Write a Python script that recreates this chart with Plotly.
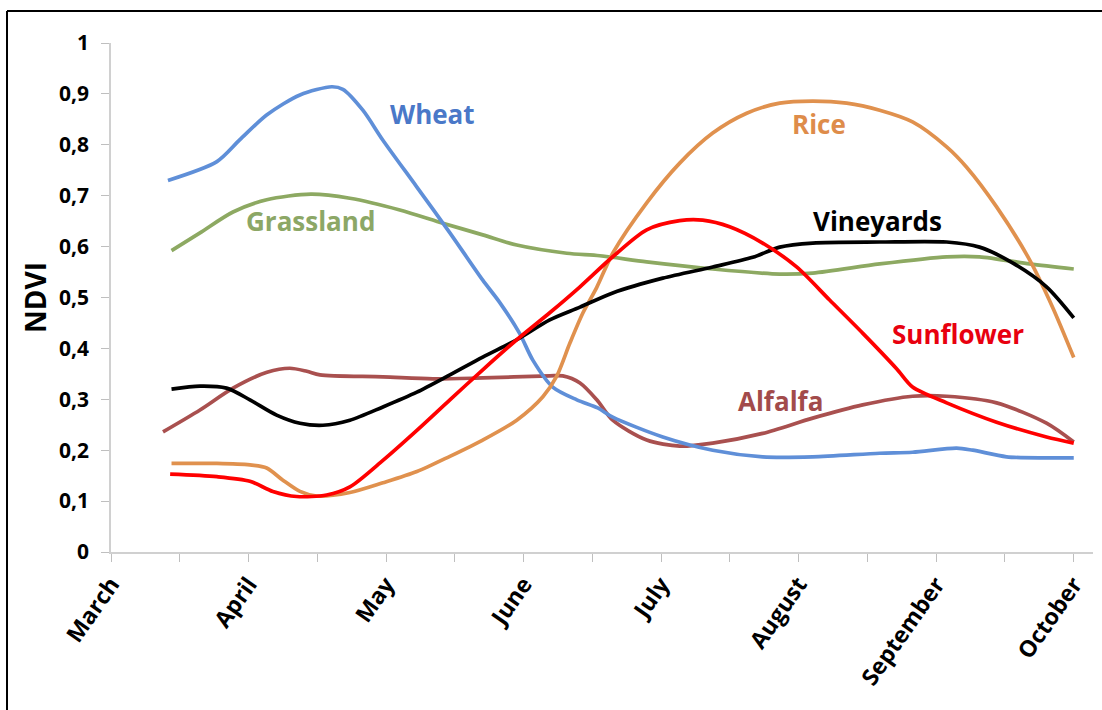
import plotly.graph_objects as go

months = ["March", "April", "May", "June", "July", "August", "September", "October"]
ytick_vals = [0, 0.1, 0.2, 0.3, 0.4, 0.5, 0.6, 0.7, 0.8, 0.9, 1.0]
ytick_text = ["0", "0,1", "0,2", "0,3", "0,4", "0,5", "0,6", "0,7", "0,8", "0,9", "1"]

# x in months since start of March
wheat_x = [0.414, 0.77, 0.937, 1.134, 1.374, 1.606, 1.686, 1.831, 1.977, 2.224, 2.464, 2.703, 2.827, 2.97,
           3.067, 3.212, 3.387, 3.539, 3.648, 4.012, 4.375, 4.738, 5.102, 5.589, 5.828, 6.148, 6.265,
           6.512, 6.802, 7.0]
wheat_y = [0.730, 0.767, 0.810, 0.859, 0.898, 0.914, 0.909, 0.868, 0.809, 0.717, 0.627, 0.534, 0.490, 0.430,
           0.377, 0.324, 0.299, 0.283, 0.265, 0.226, 0.200, 0.187, 0.187, 0.194, 0.196, 0.204, 0.200,
           0.187, 0.185, 0.185]

grass_x = [0.44, 0.647, 0.887, 1.132, 1.453, 1.737, 2.10, 2.413, 2.703, 2.95, 3.314, 3.554, 3.895, 4.375,
           4.862, 5.102, 5.589, 6.076, 6.315, 6.679, 7.0]
grass_y = [0.592, 0.627, 0.668, 0.692, 0.703, 0.695, 0.672, 0.646, 0.623, 0.603, 0.587, 0.582, 0.570, 0.556,
           0.546, 0.548, 0.566, 0.580, 0.580, 0.566, 0.556]

alfalfa_x = [0.378, 0.647, 0.887, 1.134, 1.30, 1.424, 1.519, 1.977, 2.34, 2.703, 3.19, 3.285, 3.41, 3.532,
             3.648, 3.895, 4.135, 4.375, 4.738, 5.102, 5.465, 5.828, 6.076, 6.439, 6.802, 7.0]
alfalfa_y = [0.236, 0.279, 0.322, 0.353, 0.361, 0.355, 0.348, 0.344, 0.340, 0.342, 0.346, 0.346, 0.332, 0.299,
             0.259, 0.220, 0.208, 0.214, 0.233, 0.263, 0.289, 0.306, 0.306, 0.293, 0.253, 0.216]

vine_x = [0.44, 0.647, 0.84, 1.01, 1.204, 1.374, 1.541, 1.737, 1.977, 2.224, 2.464, 2.703, 2.95, 3.19, 3.41,
          3.648, 4.012, 4.375, 4.666, 4.862, 5.102, 5.589, 6.076, 6.315, 6.555, 6.802, 7.0]
vine_y = [0.320, 0.326, 0.322, 0.299, 0.269, 0.253, 0.249, 0.259, 0.285, 0.314, 0.348, 0.383, 0.417, 0.456,
          0.481, 0.509, 0.538, 0.560, 0.579, 0.599, 0.607, 0.609, 0.609, 0.599, 0.568, 0.521, 0.460]

sun_x = [0.43, 0.77, 1.01, 1.177, 1.35, 1.568, 1.737, 1.977, 2.224, 2.464, 2.703, 2.95, 3.19, 3.41, 3.648,
         3.895, 4.135, 4.302, 4.498, 4.738, 4.985, 5.225, 5.465, 5.712, 5.828, 6.076, 6.439, 6.802, 7.0]
sun_y = [0.153, 0.148, 0.139, 0.119, 0.109, 0.112, 0.128, 0.180, 0.239, 0.299, 0.358, 0.417, 0.470, 0.521,
         0.580, 0.633, 0.651, 0.652, 0.639, 0.607, 0.560, 0.495, 0.430, 0.360, 0.324, 0.293, 0.255, 0.226, 0.214]

rice_x = [0.44, 0.77, 1.01, 1.132, 1.25, 1.374, 1.495, 1.737, 1.977, 2.224, 2.464, 2.703, 2.95, 3.14, 3.24,
          3.336, 3.43, 3.532, 3.648, 3.895, 4.135, 4.375, 4.622, 4.862, 5.102, 5.349, 5.589, 5.828, 6.076,
          6.221, 6.439, 6.679, 6.846, 7.0]
rice_y = [0.174, 0.174, 0.171, 0.165, 0.141, 0.119, 0.110, 0.117, 0.136, 0.158, 0.188, 0.220, 0.259, 0.305,
          0.345, 0.410, 0.469, 0.520, 0.587, 0.686, 0.764, 0.823, 0.862, 0.882, 0.886, 0.882, 0.868, 0.845,
          0.796, 0.756, 0.678, 0.574, 0.481, 0.382]

series = [
    ("Grassland", grass_x, grass_y, "#8DA962", "#8CA766", 1.45, 0.650),
    ("Alfalfa", alfalfa_x, alfalfa_y, "#A9504F", "#A24B4B", 4.87, 0.297),
    ("Wheat", wheat_x, wheat_y, "#5F8FD8", "#4A78C8", 2.34, 0.860),
    ("Rice", rice_x, rice_y, "#E0914E", "#DE8C4A", 5.15, 0.841),
    ("Vineyards", vine_x, vine_y, "#000000", "#000000", 5.57, 0.650),
    ("Sunflower", sun_x, sun_y, "#FF0000", "#E8000F", 6.155, 0.428),
]

fig = go.Figure()
annotations = []
for name, xs, ys, lc, tc, lx, ly in series:
    fig.add_trace(go.Scatter(x=xs, y=ys, mode="lines", name=name,
                             line=dict(color=lc, width=3.7, shape="spline", smoothing=0.8)))
    annotations.append(dict(x=lx, y=ly, xref="x", yref="y", text=name, showarrow=False,
                            font=dict(family="Open Sans", size=26, color=tc, weight="bold")))

fig.update_layout(
    width=1102, height=710,
    margin=dict(l=111, r=9, t=43, b=158),
    paper_bgcolor="white", plot_bgcolor="white",
    showlegend=False,
    annotations=annotations,
    font=dict(family="Open Sans", color="black"),
)

fig.update_xaxes(
    automargin=False,
    range=[0, 7.14], tickvals=list(range(len(months))), ticktext=months,
    tickangle=-55, ticks="outside", ticklen=8, tickcolor="#BFBFBF", tickwidth=1,
    minor=dict(ticks="outside", ticklen=8, dtick=0.5, tick0=0, tickcolor="#BFBFBF", tickwidth=1),
    showline=True, linecolor="#D0D0D0", linewidth=1.5,
    showgrid=False, zeroline=False,
    tickfont=dict(family="Open Sans", size=23, color="black", weight="bold"),
)
fig.update_yaxes(
    automargin=False,
    range=[0, 1], tickvals=ytick_vals, ticktext=ytick_text,
    ticks="outside", ticklen=8, tickcolor="#BFBFBF", tickwidth=1,
    ticklabelstandoff=8,
    showline=True, linecolor="#D0D0D0", linewidth=1.5,
    showgrid=False, zeroline=False,
    tickfont=dict(family="Open Sans", size=21, color="black", weight="bold"),
    title=dict(text="NDVI", font=dict(family="Open Sans", size=28, color="black", weight="bold"), standoff=4),
)

# outer frame (top and left edges)
fig.add_shape(type="line", xref="paper", yref="paper", x0=-0.1059, x1=1.02, y0=1.063, y1=1.063,
              line=dict(color="black", width=2))
fig.add_shape(type="line", xref="paper", yref="paper", x0=-0.1059, x1=-0.1059, y0=1.063, y1=-0.32,
              line=dict(color="black", width=2))

fig.write_html("out.html", config={"displayModeBar": False},
               post_script="document.body.style.margin='0px';")
